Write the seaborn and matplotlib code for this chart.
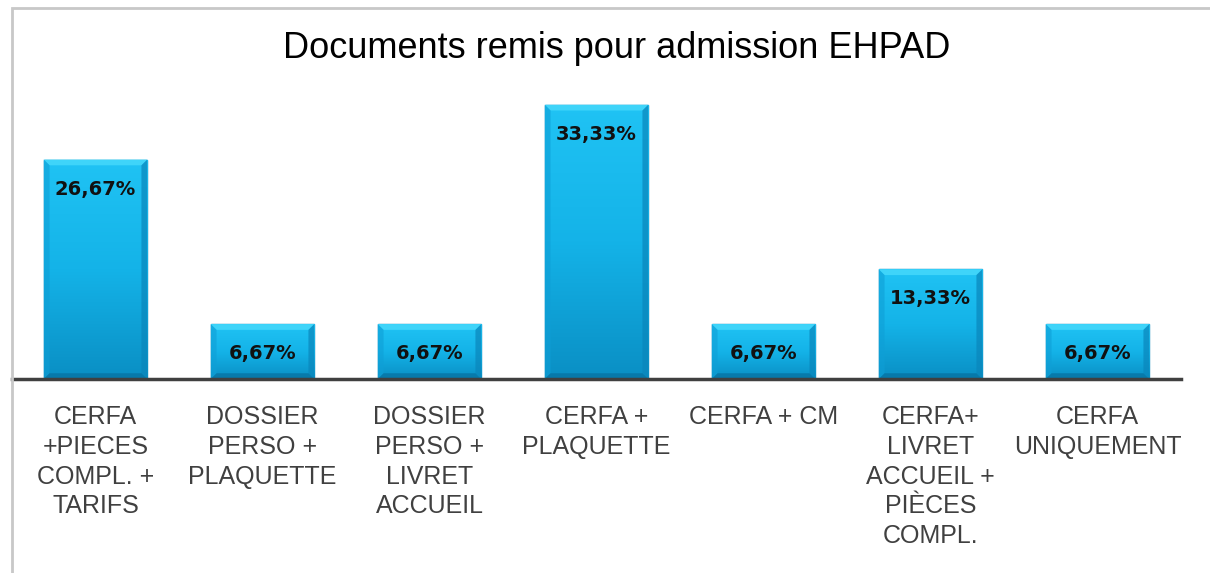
import numpy as np
import pandas as pd
import matplotlib
matplotlib.use('Agg')
from matplotlib import pyplot as plt
from matplotlib.colors import LinearSegmentedColormap
from matplotlib.patches import Rectangle, Polygon
import seaborn as sns

categories = ['CERFA\n+PIECES\nCOMPL. +\nTARIFS',
              'DOSSIER\nPERSO +\nPLAQUETTE',
              'DOSSIER\nPERSO +\nLIVRET\nACCUEIL',
              'CERFA +\nPLAQUETTE',
              'CERFA + CM',
              'CERFA+\nLIVRET\nACCUEIL +\nPIÈCES\nCOMPL.',
              'CERFA\nUNIQUEMENT']
values = [26.67, 6.67, 6.67, 33.33, 6.67, 13.33, 6.67]

df = pd.DataFrame({'doc': categories, 'pct': values})

sns.set_theme(style='white')
plt.rcParams['font.family'] = ['Liberation Sans', 'DejaVu Sans']

fig = plt.figure(figsize=(12.1, 5.73), dpi=100)
ax = fig.add_axes([12/1210, 194/573, 1169/1210, 288/573])

sns.barplot(data=df, x='doc', y='pct', color='#12b4ea', width=0.62, ax=ax,
            edgecolor='#0b86ba', linewidth=1)

cmap = LinearSegmentedColormap.from_list('blu', ['#0a8fc4', '#14b3e8', '#20c3f4'])
grad = np.linspace(0, 1, 256).reshape(-1, 1)
bx, by = 0.035, 0.7  # bevel size in data units (~6 px)
for p in ax.patches:
    x0, y0 = p.get_x(), p.get_y()
    w, h = p.get_width(), p.get_height()
    z = p.get_zorder()
    im = ax.imshow(grad, cmap=cmap, origin='lower', aspect='auto',
                   extent=[x0, x0 + w, y0, y0 + h], zorder=z + 0.1)
    im.set_clip_path(p)
    x1, y1 = x0 + w, y0 + h
    # bevels: top light, sides slightly darker, bottom dark
    ax.add_patch(Polygon([(x0, y1), (x1, y1), (x1 - bx, y1 - by), (x0 + bx, y1 - by)],
                         color='#45d8fb', alpha=0.85, lw=0, zorder=z + 0.2))
    ax.add_patch(Polygon([(x0, y1), (x0 + bx, y1 - by), (x0 + bx, y0 + by), (x0, y0)],
                         color='#0f9fd6', alpha=0.6, lw=0, zorder=z + 0.2))
    ax.add_patch(Polygon([(x1, y1), (x1 - bx, y1 - by), (x1 - bx, y0 + by), (x1, y0)],
                         color='#0a86bb', alpha=0.7, lw=0, zorder=z + 0.2))
    ax.add_patch(Polygon([(x0, y0), (x0 + bx, y0 + by), (x1 - bx, y0 + by), (x1, y0)],
                         color='#07709f', alpha=0.7, lw=0, zorder=z + 0.2))

for i, v in enumerate(values):
    ax.text(i, v - 3.6, f'{v:.2f}%'.replace('.', ','), ha='center', va='center',
            fontsize=14, fontweight='bold', color='#111111',
            family='DejaVu Sans', zorder=5)

ax.set_xlim(-0.5, 6.5)
ax.set_ylim(0, 35)
ax.set_xlabel('')
ax.set_ylabel('')
ax.set_yticks([])
ax.tick_params(axis='x', length=0, pad=19, labelsize=18, labelcolor='#404040')
for lbl in ax.get_xticklabels():
    lbl.set_linespacing(1.3)
for s in ['top', 'right', 'left']:
    ax.spines[s].set_visible(False)
ax.spines['bottom'].set_color('#404040')
ax.spines['bottom'].set_linewidth(2.5)
ax.spines['bottom'].set_zorder(6)

fig.text(617/1210, 1 - 49/573, 'Documents remis pour admission EHPAD', ha='center',
         va='center', fontsize=26, color='black')

fig.patches.append(Rectangle((12/1210, -0.1), 1.2, 1 - 8/573 + 0.1,
                             transform=fig.transFigure, fill=False,
                             edgecolor='#c8c8c8', linewidth=2))

fig.savefig('out.png', dpi=100)
